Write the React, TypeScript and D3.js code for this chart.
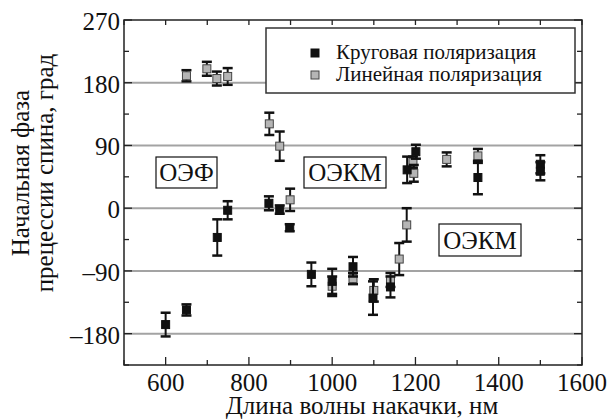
import React from "react";
import * as d3 from "d3";

// Circular polarization: wavelength (nm), phase (deg), error (deg)
const circularWl = [600, 650, 724, 749, 848, 874, 898, 950, 1000, 1050, 1098, 1140, 1180, 1201, 1350, 1500, 1500];
const circularPhase = [-167, -146, -42, -3, 7, -2, -28, -95, -105, -84, -129, -113, 55, 81, 44, 63, 53];
const circularErr = [17, 8, 26, 13, 10, 6, 5, 17, 18, 14, 24, 15, 19, 10, 24, 13, 13];

// Linear polarization
const linearWl = [650, 699, 723, 749, 849, 874, 899, 1000, 1050, 1100, 1140, 1161, 1179, 1194, 1196, 1275, 1350];
const linearPhase = [190, 200, 186, 189, 121, 89, 12, -112, -101, -118, -103, -73, -24, 66, 50, 70, 75];
const linearErr = [8, 10, 10, 12, 16, 21, 16, 14, 8, 16, 10, 23, 24, 8, 12, 10, 10];

const xTicks = [600, 800, 1000, 1200, 1400, 1600];
const xMinorTicks = [500, 700, 900, 1100, 1300, 1500];
const yTicks = [270, 180, 90, 0, -90, -180];
const yMinorTicks = [225, 135, 45, -45, -135, -225];
const gridValues = [180, 90, 0, -90, -180];

const legendLabels = ["Круговая поляризация", "Линейная поляризация"];
const regions = [
  { label: "ОЭФ", x0: 156, y0: 157, x1: 217, y1: 188 },
  { label: "ОЭКМ", x0: 304, y0: 157, x1: 386, y1: 188 },
  { label: "ОЭКМ", x0: 439, y0: 224, x1: 521, y1: 256 },
];

export default function App() {
  const L = 124, R = 582, T = 20, B = 365;
  const x = d3.scaleLinear().domain([500, 1600]).range([L, R]);
  const y = d3.scaleLinear().domain([-225, 270]).range([B, T]);

  const fmt = (v: number) => (v < 0 ? "\u2013" + Math.abs(v) : String(v));

  const renderPoint = (wl: number, ph: number, er: number, i: number, fill: string, stroke: string) => {
    const cx = x(wl), cy = y(ph);
    const yt = y(ph + er), yb = y(ph - er);
    const s = 8;
    return (
      <g key={i}>
        <line x1={cx} x2={cx} y1={yt} y2={yb} stroke="#111" strokeWidth={2} />
        <line x1={cx - 5} x2={cx + 5} y1={yt} y2={yt} stroke="#111" strokeWidth={2.5} />
        <line x1={cx - 5} x2={cx + 5} y1={yb} y2={yb} stroke="#111" strokeWidth={2.5} />
        <rect x={cx - s / 2} y={cy - s / 2} width={s} height={s} fill={fill} stroke={stroke} strokeWidth={1} />
      </g>
    );
  };

  return (
    <svg width={611} height={419} style={{ position: "absolute", left: 0, top: 0 }}>
      <style>{`text { font-family: "Liberation Serif", "Times New Roman", serif; fill: #111; }`}</style>
      <rect x={0} y={0} width={611} height={419} fill="#fff" />
      {gridValues.map((v) => (
        <line key={v} x1={L} x2={R} y1={y(v)} y2={y(v)} stroke="#a3a3a3" strokeWidth={2} />
      ))}
      {xTicks.concat(xMinorTicks).map((v) => {
        const major = xTicks.includes(v);
        const len = major ? 8 : 5;
        return (
          <g key={"xt" + v}>
            <line x1={x(v)} x2={x(v)} y1={B} y2={B - len} stroke="#222" strokeWidth={1.3} />
            <line x1={x(v)} x2={x(v)} y1={T} y2={T + 5} stroke="#222" strokeWidth={1.3} />
          </g>
        );
      })}
      {yMinorTicks.map((v) => (
        <g key={"ym" + v}>
          <line x1={L} x2={L + 5} y1={y(v)} y2={y(v)} stroke="#222" strokeWidth={1.3} />
          <line x1={R} x2={R - 5} y1={y(v)} y2={y(v)} stroke="#222" strokeWidth={1.3} />
        </g>
      ))}
      {yTicks.map((v) => (
        <g key={"yt" + v}>
          <line x1={L} x2={L + 8} y1={y(v)} y2={y(v)} stroke="#222" strokeWidth={1.3} />
          <line x1={R} x2={R - 8} y1={y(v)} y2={y(v)} stroke="#222" strokeWidth={1.3} />
        </g>
      ))}
      {regions.map((r, i) => (
        <g key={"r" + i}>
          <rect x={r.x0} y={r.y0} width={r.x1 - r.x0} height={r.y1 - r.y0} fill="#fff" stroke="#111" strokeWidth={1.2} />
          <text x={(r.x0 + r.x1) / 2} y={(r.y0 + r.y1) / 2 + 8.5} textAnchor="middle" fontSize={25}>
            {r.label}
          </text>
        </g>
      ))}
      {linearWl.map((wl, i) => renderPoint(wl, linearPhase[i], linearErr[i], i, "#b5b5b5", "#444"))}
      {circularWl.map((wl, i) => renderPoint(wl, circularPhase[i], circularErr[i], 100 + i, "#111", "#111"))}
      <rect x={266} y={28} width={309} height={65} fill="#fff" stroke="#333" strokeWidth={1.5} />
      {legendLabels.map((lab, i) => (
        <g key={"lg" + i}>
          <rect x={311} y={49 + i * 22} width={8} height={8} fill={i === 0 ? "#111" : "#b5b5b5"} stroke={i === 0 ? "#111" : "#444"} strokeWidth={1} />
          <text x={336} y={59 + i * 22} fontSize={21}>{lab}</text>
        </g>
      ))}
      <rect x={L} y={T} width={R - L} height={B - T} fill="none" stroke="#222" strokeWidth={1.5} />
      {yTicks.map((v) => (
        <text key={"yl" + v} x={120} y={y(v) + 10} textAnchor="end" fontSize={25}>
          {fmt(v)}
        </text>
      ))}
      {xTicks.map((v) => (
        <text key={"xl" + v} x={x(v)} y={391} textAnchor="middle" fontSize={25}>
          {fmt(v)}
        </text>
      ))}
      <text x={362} y={414} textAnchor="middle" fontSize={25}>Длина волны накачки, нм</text>
      <text transform="translate(29,173) rotate(-90)" textAnchor="middle" fontSize={25}>Начальная фаза</text>
      <text transform="translate(53,173) rotate(-90)" textAnchor="middle" fontSize={25}>прецессии спина, град</text>
    </svg>
  );
}
